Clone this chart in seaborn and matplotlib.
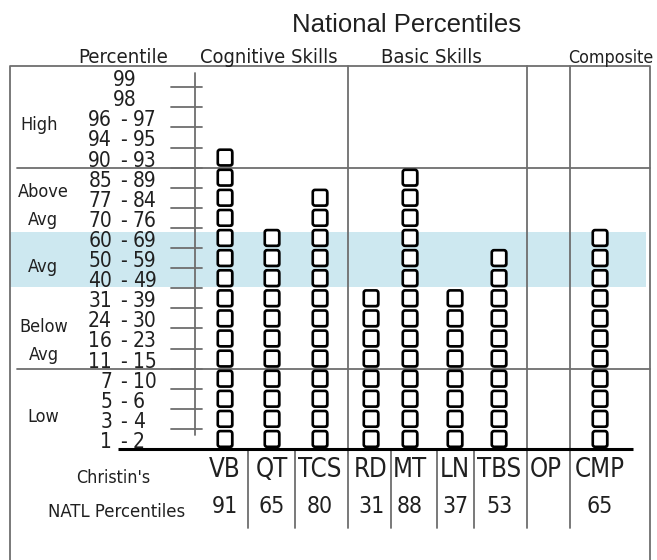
import numpy as np
import pandas as pd
import matplotlib
matplotlib.use("Agg")
import matplotlib.pyplot as plt
import seaborn as sns
from matplotlib.markers import MarkerStyle
from matplotlib import patches as mpatches, patheffects as pe, font_manager as fm

# ---------------- data ----------------
title = "National Percentiles"
band_labels = ["99", "98", "96 - 97", "94 - 95", "90 - 93",
               "85 - 89", "77 - 84", "70 - 76",
               "60 - 69", "50 - 59", "40 - 49",
               "31 - 39", "24 - 30", "16 - 23", "11 - 15",
               "7 - 10", "5 - 6", "3 - 4", "1 - 2"]          # top -> bottom
level_labels = ["High", "Above\nAvg", "Avg", "Below\nAvg", "Low"]
group_headers = ["Percentile", "Cognitive Skills", "Basic Skills", "Composite"]
subtests = ["VB", "QT", "TCS", "RD", "MT", "LN", "TBS", "OP", "CMP"]
national_pct = [91, 65, 80, 31, 88, 37, 53, None, 65]
row_title = "Christin's"
row_values_title = "NATL Percentiles"

# ---------------- layout (pixels) ----------------
W, H = 657, 560
BASE, STEP = 449.0, 20.1
col_x = [225, 272, 320, 371, 410, 455, 499, 546, 600]
level_y_px = [[130], [197, 225], [272], [332, 360], [422]]
level_x = [39, 43, 43, 44, 43]
header_x = [123, 269, 431, 611]
header_fs = [14.6, 14.4, 14.6, 12.8]
full_dividers = [348, 527, 570]
short_dividers = [248, 295, 391, 437, 474]

TXT = "#202020"
LINE = "#6e6e6e"
BLUE = "#cde8f0"

sns.set_theme(style="white")
plt.rcParams["font.family"] = ["Liberation Sans", "DejaVu Sans"]

# look for an installed narrow / condensed sans face
best = None
for f in fm.fontManager.ttflist:
    tag = (f.name + " " + f.fname).lower()
    if ("narrow" in tag or "condensed" in tag or f.stretch in ("condensed", "semi-condensed")) \
            and f.style == "normal" and f.weight in (400, "normal", "regular") \
            and "mono" not in tag and "serif" not in tag.replace("sans-serif", ""):
        score = 3 if "liberation" in tag else (1 if "semi" in tag else 2)
        if best is None or score > best[0]:
            best = (score, f.fname)
narrow_file = best[1] if best is not None else None
SCALE = 1.0 if narrow_file else 0.86


def NP(size):
    if narrow_file:
        return fm.FontProperties(fname=narrow_file, size=size)
    return fm.FontProperties(family="Liberation Sans", size=size * SCALE)


def Y(p):
    return (BASE - p) / STEP


fig = plt.figure(figsize=(W / 100, H / 100), dpi=100)
ax = fig.add_axes([0, 0, 1, 1])

# ---------------- boxes via seaborn ----------------
lows_bottom_up = [int(s.split("-")[0]) for s in band_labels][::-1]


def band_of(v):
    return max(k for k, lo in enumerate(lows_bottom_up) if lo <= v)


rows = []
for name, x, v in zip(subtests, col_x, national_pct):
    if v is None:
        continue
    for k in range(band_of(v) + 1):
        rows.append({"subtest": name, "x": x, "band": k + 0.5})
df = pd.DataFrame(rows)

box_path = mpatches.BoxStyle.Round(pad=0, rounding_size=0.14)(-0.46, -0.5, 0.92, 1.0, 1.0)
box_marker = MarkerStyle(box_path)
sns.scatterplot(data=df, x="x", y="band", marker=box_marker, s=128,
                color="white", edgecolor="black", linewidth=1.9,
                legend=False, ax=ax, zorder=6, clip_on=False)
ax.collections[-1].set_path_effects(
    [pe.SimplePatchShadow(offset=(0.9, -0.9), shadow_rgbFace="black", alpha=0.55), pe.Normal()])

ax.set_xlim(0, W)
ax.set_ylim(Y(H), Y(0))
ax.axis("off")

# ---------------- background / grid ----------------
nb = len(band_labels)
ax.fill_between([10, 646], 8.05, 10.8, color=BLUE, lw=0, zorder=0)
for yb in (14, 4):
    ax.plot([17, 650], [yb, yb], color=LINE, lw=1.3, zorder=2)
for k in range(1, nb):
    ax.plot([171, 202], [k, k], color=LINE, lw=1.3, zorder=2)
ax.plot([195, 195], [0.7, nb - 0.3], color=LINE, lw=1.3, zorder=2)
ax.plot([10, 10, 650, 650], [Y(H + 5), Y(66), Y(66), Y(H + 5)], color=LINE, lw=1.3, zorder=2, clip_on=False)
for xd in full_dividers:
    ax.plot([xd, xd], [Y(66), Y(528)], color=LINE, lw=1.3, zorder=2)
for xd in short_dividers:
    ax.plot([xd, xd], [0, Y(528)], color=LINE, lw=1.3, zorder=2)
ax.plot([118, 633], [0, 0], color="black", lw=2.2, zorder=7, solid_capstyle="butt")

# ---------------- texts ----------------
ax.text(407, Y(32), title, ha="center", va="baseline", fontsize=18.5, family="Liberation Sans", color=TXT)
for hx, ht, fs in zip(header_x, group_headers, header_fs):
    ax.text(hx, Y(63), ht, ha="center", va="baseline", fontproperties=NP(fs), color=TXT)

for i, lab in enumerate(band_labels):
    k = nb - 1 - i
    yb = k + 0.05
    if "-" in lab:
        lo, hi = [s.strip() for s in lab.split("-")]
        ax.text(112, yb, lo, ha="right", va="baseline", fontproperties=NP(15), color=TXT)
        ax.text(123.5, yb, "-", ha="center", va="baseline", fontproperties=NP(15), color=TXT)
        ax.text(133, yb, hi, ha="left", va="baseline", fontproperties=NP(15), color=TXT)
    else:
        ax.text(125, yb, lab, ha="center", va="baseline", fontproperties=NP(15), color=TXT)

for lab, ys, lx in zip(level_labels, level_y_px, level_x):
    for part, yp in zip(lab.split("\n"), ys):
        ax.text(lx, Y(yp), part, ha="center", va="baseline", fontproperties=NP(13), color=TXT)

for x, name, v in zip(col_x, subtests, national_pct):
    ax.text(x, Y(477), name, ha="center", va="baseline", fontproperties=NP(18.5), color=TXT)
    if v is not None:
        ax.text(x, Y(513), str(v), ha="center", va="baseline", fontproperties=NP(16.5), color=TXT)

ax.text(113, Y(483), row_title, ha="center", va="baseline", fontproperties=NP(12.8), color=TXT)
ax.text(117, Y(517), row_values_title, ha="center", va="baseline", fontproperties=NP(13.2), color=TXT)

fig.savefig("out.png", dpi=100)
